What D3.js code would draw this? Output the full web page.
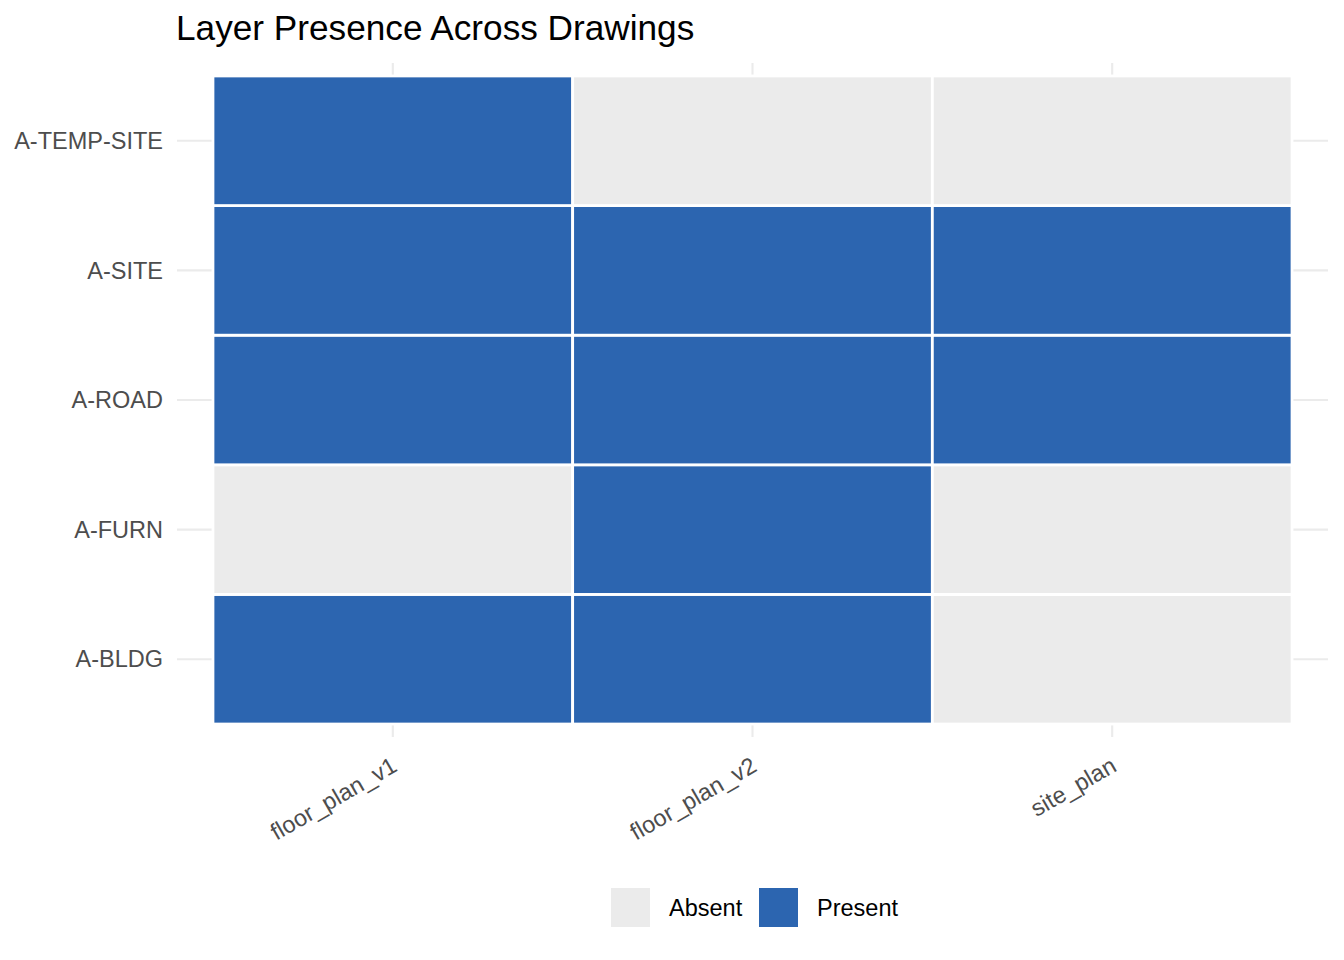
<!DOCTYPE html>
<html>
<head>
<meta charset="utf-8">
<script src="https://cdn.jsdelivr.net/npm/d3@7"></script>
<style>
  html, body { margin: 0; padding: 0; background: #fff; }
  svg { display: block; font-family: "Liberation Sans", Arial, Helvetica, sans-serif; }
</style>
</head>
<body>
<script>
// ---- data ----
const drawings = ["floor_plan_v1", "floor_plan_v2", "site_plan"];
const layers = ["A-BLDG", "A-FURN", "A-ROAD", "A-SITE", "A-TEMP-SITE"];
const presence = [
  [1, 1, 0],  // A-BLDG
  [0, 1, 0],  // A-FURN
  [1, 1, 1],  // A-ROAD
  [1, 1, 1],  // A-SITE
  [1, 0, 0]   // A-TEMP-SITE
];
const statusLabels = ["Absent", "Present"];
const statusColors = ["#ebebeb", "#2c65b0"];
const title = "Layer Presence Across Drawings";

const cells = [];
layers.forEach((l, i) => drawings.forEach((d, j) => cells.push({layer: l, drawing: d, status: statusLabels[presence[i][j]]})));

// ---- layout ----
const W = 1344, H = 960;
const panel = {left: 177, right: 1328, top: 63, bottom: 737};

const svg = d3.select("body").append("svg").attr("width", W).attr("height", H);

const x = d3.scaleBand().domain(drawings).range([panel.left, panel.right]).paddingInner(0).paddingOuter(0.1);
const y = d3.scaleBand().domain(layers.slice().reverse()).range([panel.top, panel.bottom]).paddingInner(0).paddingOuter(0.1);
const color = d3.scaleOrdinal().domain(statusLabels).range(statusColors);

// grid lines
const grid = svg.append("g").attr("stroke", "#ebebeb").attr("stroke-width", 2.1);
grid.selectAll("line.v").data(drawings).join("line").attr("class", "v")
  .attr("x1", d => x(d) + x.bandwidth() / 2).attr("x2", d => x(d) + x.bandwidth() / 2)
  .attr("y1", panel.top).attr("y2", panel.bottom);
grid.selectAll("line.h").data(layers).join("line").attr("class", "h")
  .attr("y1", d => y(d) + y.bandwidth() / 2).attr("y2", d => y(d) + y.bandwidth() / 2)
  .attr("x1", panel.left).attr("x2", panel.right);

// tiles
svg.append("g").selectAll("rect").data(cells).join("rect")
  .attr("x", d => x(d.drawing)).attr("y", d => y(d.layer))
  .attr("width", x.bandwidth()).attr("height", y.bandwidth())
  .attr("fill", d => color(d.status))
  .attr("stroke", "#ffffff").attr("stroke-width", 2.8);

// y axis labels
svg.append("g").selectAll("text").data(layers).join("text")
  .attr("x", 163).attr("y", d => y(d) + y.bandwidth() / 2)
  .attr("dy", "0.35em").attr("text-anchor", "end")
  .attr("font-size", 23.5).attr("fill", "#4d4d4d").text(d => d);

// x axis labels
svg.append("g").selectAll("text").data(drawings).join("text")
  .attr("transform", d => `translate(${x(d) + x.bandwidth() / 2 - 3},755) rotate(-30)`)
  .attr("dy", "0.75em").attr("text-anchor", "end")
  .attr("font-size", 23.5).attr("fill", "#4d4d4d").text(d => d);

// title
svg.append("text").attr("x", 176).attr("y", 40).attr("font-size", 35.2).attr("fill", "#000").text(title);

// legend
const legend = svg.append("g");
const keyX = [611, 759], labX = [669, 817];
statusLabels.forEach((s, i) => {
  legend.append("rect").attr("x", keyX[i]).attr("y", 888).attr("width", 39).attr("height", 39).attr("fill", color(s));
  legend.append("text").attr("x", labX[i]).attr("y", 908).attr("dy", "0.35em")
    .attr("font-size", 23.5).attr("fill", "#000").text(s);
});
</script>
</body>
</html>
